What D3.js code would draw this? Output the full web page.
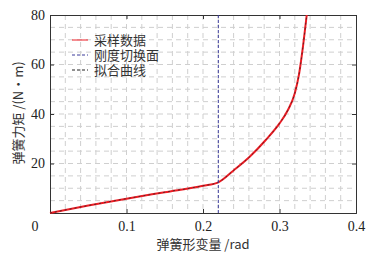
<!DOCTYPE html>
<html>
<head>
<meta charset="utf-8">
<script src="https://cdn.jsdelivr.net/npm/d3@7"></script>
<style>
  body { margin: 0; background: #fff; }
  svg { display: block; }
</style>
</head>
<body>
<div id="graph-container"></div>
<script>
// Sampled spring data (deflection in rad, torque in N·m)
var deflection = [0, 0.05, 0.1, 0.15, 0.2, 0.22, 0.24, 0.261, 0.282, 0.30, 0.311, 0.32, 0.3255, 0.331, 0.3356];
var torque = [0, 3.0, 5.8, 8.4, 11.0, 12.4, 17.2, 22.7, 29.5, 36.2, 41.6, 48.4, 56.0, 68.0, 80];
// Stiffness switching position
var switchX = 0.22;
var xTicks = [0, 0.1, 0.2, 0.3, 0.4];
var yTicks = [20, 40, 60, 80];
var legendLabels = ["采样数据", "刚度切换面", "拟合曲线"];

var svgWidth = 372, svgHeight = 257;
var margin = { top: 15, right: 16, bottom: 44, left: 50 };
var chartWidth = svgWidth - margin.left - margin.right;
var chartHeight = svgHeight - margin.top - margin.bottom;

var svg = d3.select("#graph-container").append("svg")
  .attr("width", svgWidth)
  .attr("height", svgHeight);

var chart = svg.append("g")
  .attr("transform", "translate(" + margin.left + "," + margin.top + ")");

var xScale = d3.scaleLinear().domain([0, 0.4]).range([0, chartWidth]);
var yScale = d3.scaleLinear().domain([0, 80]).range([chartHeight, 0]);

// Dashed grid
var gridColor = "#cfcfcf";
chart.append("g").selectAll("line")
  .data(d3.range(1, 20).map(function (i) { return i * 0.02; }))
  .enter().append("line")
  .attr("x1", function (d) { return xScale(d); })
  .attr("x2", function (d) { return xScale(d); })
  .attr("y1", 0).attr("y2", chartHeight)
  .attr("stroke", gridColor).attr("stroke-dasharray", "5,4");
chart.append("g").selectAll("line")
  .data(d3.range(1, 16).map(function (i) { return i * 5; }))
  .enter().append("line")
  .attr("y1", function (d) { return yScale(d); })
  .attr("y2", function (d) { return yScale(d); })
  .attr("x1", 0).attr("x2", chartWidth)
  .attr("stroke", gridColor).attr("stroke-dasharray", "5,4");

// Axes (ticks pointing inward, box on all sides)
var axisFont = "Liberation Serif";
var xAxis = chart.append("g")
  .attr("transform", "translate(0," + chartHeight + ")")
  .call(d3.axisBottom(xScale).tickValues(xTicks).tickSize(-4).tickPadding(8)
    .tickFormat(function (d) { return d === 0 ? "0" : d3.format(".1f")(d); }));
var yAxis = chart.append("g")
  .call(d3.axisLeft(yScale).tickValues(yTicks).tickSize(-4).tickPadding(5));
chart.append("g")
  .call(d3.axisTop(xScale).tickValues(xTicks).tickSize(-4).tickFormat(""));
chart.append("g")
  .attr("transform", "translate(" + chartWidth + ",0)")
  .call(d3.axisRight(yScale).tickValues(yTicks).tickSize(-4).tickFormat(""));
chart.selectAll("g").attr("font-family", axisFont).attr("font-size", 14);
chart.selectAll(".domain, .tick line").attr("stroke", "#333");
chart.selectAll(".tick text").attr("fill", "#222");
xAxis.select(".tick text").attr("dx", "-1.1em");

// Curves
var line = d3.line()
  .x(function (d) { return xScale(d[0]); })
  .y(function (d) { return yScale(d[1]); })
  .curve(d3.curveMonotoneX);
var points = d3.zip(deflection, torque);

chart.append("path").datum(points)
  .attr("fill", "none").attr("stroke", "#ee1c24").attr("stroke-width", 2)
  .attr("d", line);
chart.append("path").datum(points)
  .attr("fill", "none").attr("stroke", "#222").attr("stroke-width", 0.7)
  .attr("stroke-dasharray", "2,3")
  .attr("d", line);

chart.append("line")
  .attr("x1", xScale(switchX)).attr("x2", xScale(switchX))
  .attr("y1", 0).attr("y2", chartHeight)
  .attr("stroke", "#3a3a9a").attr("stroke-width", 1)
  .attr("stroke-dasharray", "3,2");

// Legend
var cjkFont = "Noto Sans CJK SC";
var legendStyles = [
  { color: "#ee1c24", dash: null },
  { color: "#3a3a9a", dash: "3,2" },
  { color: "#222", dash: "3,2" }
];
var legend = svg.append("g");
legendLabels.forEach(function (label, i) {
  var y = 40 + i * 15;
  legend.append("line")
    .attr("x1", 72).attr("x2", 88).attr("y1", y).attr("y2", y)
    .attr("stroke", legendStyles[i].color).attr("stroke-width", 1)
    .attr("stroke-dasharray", legendStyles[i].dash);
  legend.append("text")
    .attr("x", 94).attr("y", y + 5)
    .style("font-family", cjkFont).style("font-size", "13px")
    .attr("fill", "#333").text(label);
});

// Axis titles
svg.append("text")
  .attr("x", 203).attr("y", 249)
  .attr("text-anchor", "middle")
  .style("font-family", cjkFont).style("font-size", "13px").attr("fill", "#333")
  .text("弹簧形变量 /rad");
svg.append("text")
  .attr("transform", "translate(23,113) rotate(-90)")
  .attr("text-anchor", "middle")
  .style("font-family", cjkFont).style("font-size", "13px").attr("fill", "#333")
  .text("弹簧力矩 /(N·m)");
</script>
</body>
</html>
